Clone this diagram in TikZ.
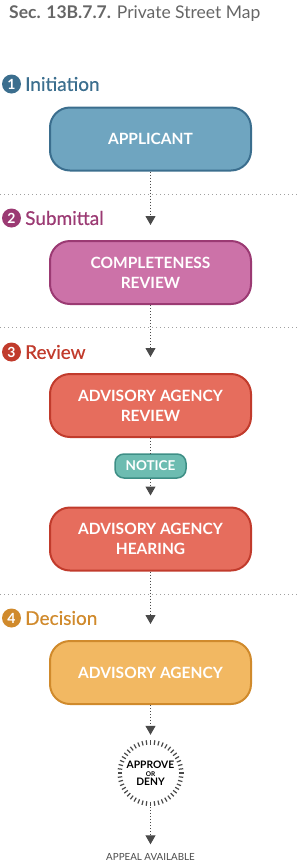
\documentclass[tikz,border=0pt]{standalone}
\usepackage{fontspec}
\setmainfont{Lato}
\newfontfamily\medfont[FakeBold=0.5]{Lato}
\usetikzlibrary{arrows.meta,calc}
\definecolor{cA}{HTML}{3B6E8E}
\definecolor{cAf}{HTML}{6FA5C0}
\definecolor{cB}{HTML}{9B3A73}
\definecolor{cBf}{HTML}{CC72A8}
\definecolor{cC}{HTML}{C13B2C}
\definecolor{cCf}{HTML}{E66D5D}
\definecolor{cD}{HTML}{D08A2C}
\definecolor{cDf}{HTML}{F2B862}
\definecolor{cN}{HTML}{3E8F86}
\definecolor{cNf}{HTML}{6DBCB1}
\definecolor{arr}{HTML}{4A4A4A}
\definecolor{sep}{HTML}{A0A0A0}
\definecolor{ttl}{HTML}{666666}
\tikzset{
  stepbox/.style={rounded corners=20pt, minimum width=201pt, minimum height=63pt, line width=2pt, align=center, text=white, font=\fontsize{15.5}{20}\selectfont\bfseries, inner sep=0pt},
  noticebox/.style={rounded corners=9pt, minimum width=71pt, minimum height=24pt, line width=1.5pt, text=white, font=\fontsize{13.5}{14}\selectfont\bfseries, inner sep=0pt, draw=cN, fill=cNf},
  flow/.style={draw=arr, line width=1pt, dash pattern=on 1pt off 2pt, -{Triangle[width=10pt,length=9pt]}},
  flowplain/.style={draw=arr, line width=1pt, dash pattern=on 1pt off 2pt},
  sepline/.style={draw=sep, line width=1pt, dash pattern=on 1pt off 3pt},
  phnum/.style={circle, inner sep=0pt, minimum size=19pt, text=white, font=\fontsize{14}{14}\selectfont\bfseries},
  phlabel/.style={anchor=west, inner sep=0pt, font=\fontsize{19}{19}\selectfont\medfont},
}
\begin{document}
\begin{tikzpicture}[x=1pt, y=-1pt]
\useasboundingbox (0,0) rectangle (300,863);
% title
\node[anchor=west, inner sep=0pt, text=ttl, font=\fontsize{17.5}{18}\selectfont] (title) at (9,14) {\textbf{Sec. 13B.7.7.} Private Street Map};
% separators
\coordinate (s1a) at (0,194); \coordinate (s1b) at (300,194);
\coordinate (s2a) at (0,327); \coordinate (s2b) at (300,327);
\coordinate (s3a) at (0,594); \coordinate (s3b) at (300,594);
\draw[sepline] (s1a) -- (s1b);
\draw[sepline] (s2a) -- (s2b);
\draw[sepline] (s3a) -- (s3b);
% phase labels
\node[phnum, fill=cA] (n1) at (11.5,84) {1};
\node[phlabel, text=cA] (p1) at (25,84) {Initiation};
\node[phnum, fill=cB] (n2) at (11.5,218) {2};
\node[phlabel, text=cB] (p2) at (25,218) {Submittal};
\node[phnum, fill=cC] (n3) at (11.5,352) {3};
\node[phlabel, text=cC] (p3) at (25,352) {Review};
\node[phnum, fill=cD] (n4) at (11.5,618) {4};
\node[phlabel, text=cD] (p4) at (25,618) {Decision};
% boxes
\node[stepbox, draw=cA, fill=cAf] (app) at (150.5,139) {APPLICANT};
\node[stepbox, draw=cB, fill=cBf] (comp) at (150.5,272.5) {COMPLETENESS\\REVIEW};
\node[stepbox, draw=cC, fill=cCf] (rev) at (150.5,405.5) {ADVISORY AGENCY\\REVIEW};
\node[noticebox] (notice) at (150.5,466) {NOTICE};
\node[stepbox, draw=cC, fill=cCf] (hear) at (150.5,539) {ADVISORY AGENCY\\HEARING};
\node[stepbox, draw=cD, fill=cDf] (dec) at (150.5,672.5) {ADVISORY AGENCY};
\node[circle, minimum size=66pt, inner sep=0pt, align=center, font=\fontsize{10.3}{11}\selectfont\bfseries] (appr) at (150.5,773) {APPROVE\\[-3pt]{\fontsize{6.5}{7}\selectfont OR}\\[-2pt]DENY};
\foreach \a in {0,7.5,...,352.5} {
  \draw[arr, line width=1.2pt] ($(appr.center)+(\a:28.5pt)$) -- ($(appr.center)+(\a:33pt)$);
}
\node[inner sep=0pt, text=arr, font=\fontsize{9.8}{11}\selectfont] (appeal) at (150.5,857) {APPEAL AVAILABLE};
% connectors
\draw[flow, shorten >=15pt] (app.south) -- (comp.north);
\draw[flow, shorten >=16pt] (comp.south) -- (rev.north);
\draw[flowplain] (rev.south) -- (notice.north);
\draw[flow, shorten >=11pt] (notice.south) -- (hear.north);
\draw[flow, shorten >=16pt] (hear.south) -- (dec.north);
\draw[flow, shorten >=5pt] (dec.south) -- (appr.north);
\draw[flow, shorten >=9pt, shorten <=1pt] (appr.south) -- (appeal.north);
\end{tikzpicture}
\end{document}
